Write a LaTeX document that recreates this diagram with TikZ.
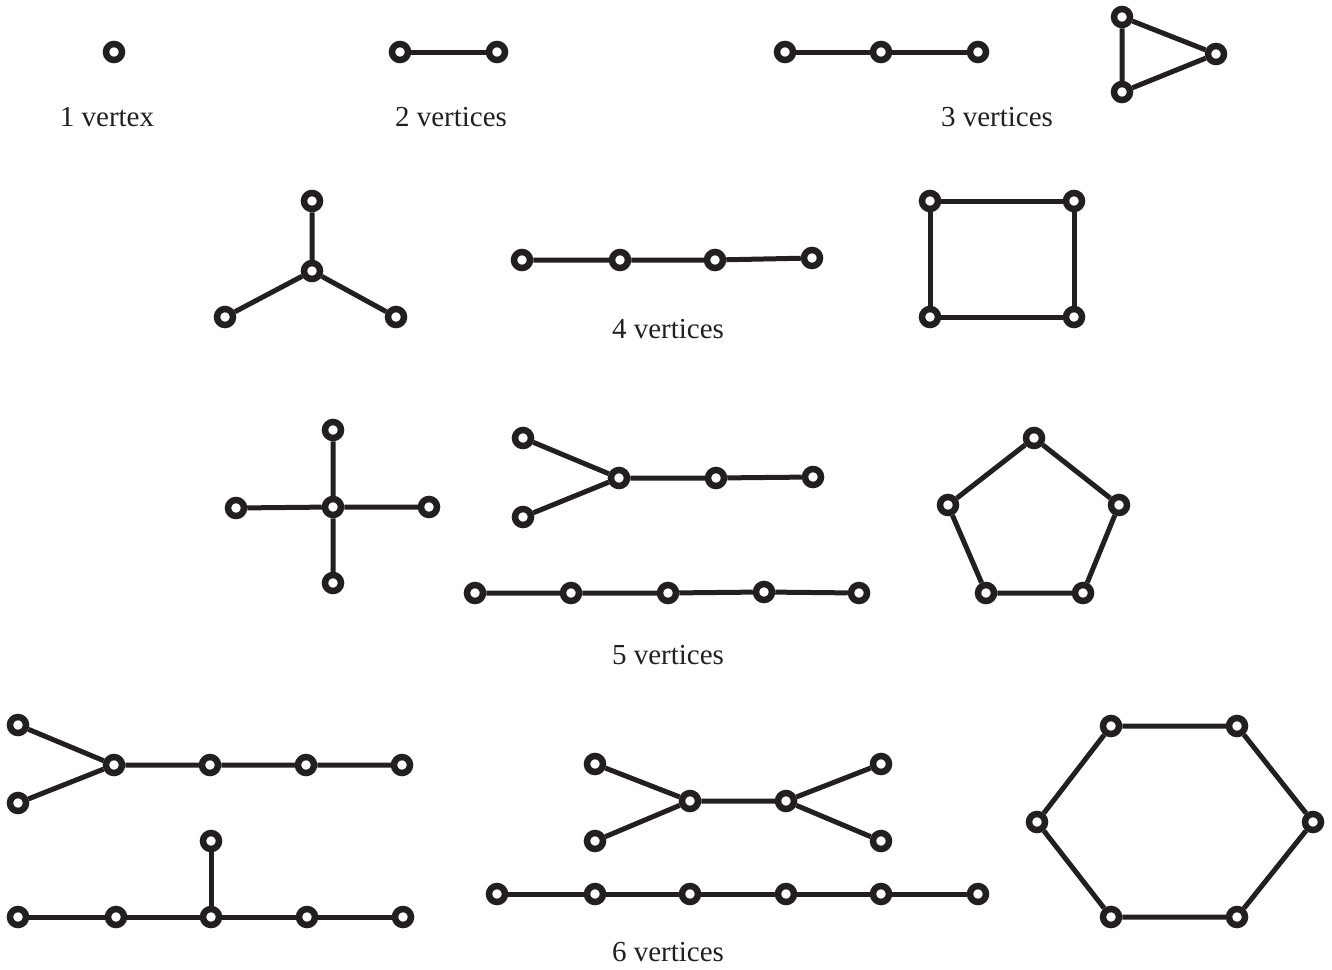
\documentclass[tikz,border=0pt]{standalone}
\usepackage{fontspec}
\setmainfont{Liberation Serif}
\definecolor{ink}{HTML}{231F20}
\begin{document}
\begin{tikzpicture}[x=1pt,y=-1pt,
  vtx/.style={circle,draw=ink,fill=white,line width=6.5pt,inner sep=0pt,minimum size=16pt},
  edge/.style={draw=ink,line width=5pt},
  lbl/.style={anchor=base,inner sep=0pt,text=ink,font=\fontsize{29}{34}\selectfont}]
\useasboundingbox (0,0) rectangle (1332,969);
% labels
\node[lbl] (l1) at (107,126) {1 vertex};
\node[lbl] (l2) at (451,126) {2 vertices};
\node[lbl] (l3) at (997,126) {3 vertices};
\node[lbl] (l4) at (668,338) {4 vertices};
\node[lbl] (l5) at (668,664) {5 vertices};
\node[lbl] (l6) at (668,961) {6 vertices};
% 1 vertex
\node[vtx] (a1) at (114,52) {};
% 2 vertices
\node[vtx] (b1) at (400,52) {};
\node[vtx] (b2) at (497,52) {};
\draw[edge] (b1) -- (b2);
% 3 vertices path
\node[vtx] (c1) at (785,52) {};
\node[vtx] (c2) at (881,52) {};
\node[vtx] (c3) at (978,52) {};
\draw[edge] (c1) -- (c2) -- (c3);
% triangle
\node[vtx] (t1) at (1122,17) {};
\node[vtx] (t2) at (1216,54) {};
\node[vtx] (t3) at (1122,92) {};
\draw[edge] (t1) -- (t2) -- (t3) -- (t1);
% 4: star
\node[vtx] (s0) at (312,271) {};
\node[vtx] (s1) at (312,201) {};
\node[vtx] (s2) at (225,317) {};
\node[vtx] (s3) at (396,317) {};
\draw[edge] (s0) -- (s1) (s0) -- (s2) (s0) -- (s3);
% 4: path
\node[vtx] (p1) at (522,260) {};
\node[vtx] (p2) at (620,260) {};
\node[vtx] (p3) at (715,260) {};
\node[vtx] (p4) at (812,258) {};
\draw[edge] (p1) -- (p2) -- (p3) -- (p4);
% 4: square
\node[vtx] (q1) at (930,201) {};
\node[vtx] (q2) at (1074,201) {};
\node[vtx] (q3) at (1074,317) {};
\node[vtx] (q4) at (930,317) {};
\draw[edge] (q1) -- (q2) -- (q3) -- (q4) -- (q1);
% 5: cross
\node[vtx] (x0) at (333,507) {};
\node[vtx] (x1) at (333,430) {};
\node[vtx] (x2) at (333,583) {};
\node[vtx] (x3) at (236,508) {};
\node[vtx] (x4) at (429,507) {};
\draw[edge] (x0) -- (x1) (x0) -- (x2) (x0) -- (x3) (x0) -- (x4);
% 5: fork
\node[vtx] (f1) at (523,438) {};
\node[vtx] (f2) at (523,517) {};
\node[vtx] (f3) at (619,478) {};
\node[vtx] (f4) at (716,478) {};
\node[vtx] (f5) at (813,477) {};
\draw[edge] (f1) -- (f3) (f2) -- (f3) (f3) -- (f4) -- (f5);
% 5: path
\node[vtx] (r1) at (475,593) {};
\node[vtx] (r2) at (571,593) {};
\node[vtx] (r3) at (668,593) {};
\node[vtx] (r4) at (764,592) {};
\node[vtx] (r5) at (859,593) {};
\draw[edge] (r1) -- (r2) -- (r3) -- (r4) -- (r5);
% 5: pentagon
\node[vtx] (g1) at (1034,438) {};
\node[vtx] (g2) at (1119,505) {};
\node[vtx] (g3) at (1083,593) {};
\node[vtx] (g4) at (986,593) {};
\node[vtx] (g5) at (948,505) {};
\draw[edge] (g1) -- (g2) -- (g3) -- (g4) -- (g5) -- (g1);
% 6: fork
\node[vtx] (h1) at (18,725) {};
\node[vtx] (h2) at (18,803) {};
\node[vtx] (h3) at (114,765) {};
\node[vtx] (h4) at (210,765) {};
\node[vtx] (h5) at (306,765) {};
\node[vtx] (h6) at (402,765) {};
\draw[edge] (h1) -- (h3) (h2) -- (h3) (h3) -- (h4) -- (h5) -- (h6);
% 6: T
\node[vtx] (k1) at (18,917) {};
\node[vtx] (k2) at (116,917) {};
\node[vtx] (k3) at (211,917) {};
\node[vtx] (k4) at (211,841) {};
\node[vtx] (k5) at (307,917) {};
\node[vtx] (k6) at (403,917) {};
\draw[edge] (k1) -- (k2) -- (k3) -- (k5) -- (k6) (k3) -- (k4);
% 6: double fork
\node[vtx] (d1) at (595,764) {};
\node[vtx] (d2) at (595,841) {};
\node[vtx] (d3) at (690,801) {};
\node[vtx] (d4) at (786,801) {};
\node[vtx] (d5) at (881,764) {};
\node[vtx] (d6) at (881,841) {};
\draw[edge] (d1) -- (d3) (d2) -- (d3) (d3) -- (d4) (d4) -- (d5) (d4) -- (d6);
% 6: path
\node[vtx] (e1) at (497,894) {};
\node[vtx] (e2) at (595,894) {};
\node[vtx] (e3) at (690,894) {};
\node[vtx] (e4) at (786,894) {};
\node[vtx] (e5) at (881,894) {};
\node[vtx] (e6) at (978,894) {};
\draw[edge] (e1) -- (e2) -- (e3) -- (e4) -- (e5) -- (e6);
% 6: hexagon
\node[vtx] (z1) at (1111,726) {};
\node[vtx] (z2) at (1237,726) {};
\node[vtx] (z3) at (1313,822) {};
\node[vtx] (z4) at (1237,917) {};
\node[vtx] (z5) at (1111,917) {};
\node[vtx] (z6) at (1037,822) {};
\draw[edge] (z1) -- (z2) -- (z3) -- (z4) -- (z5) -- (z6) -- (z1);
\end{tikzpicture}
\end{document}
